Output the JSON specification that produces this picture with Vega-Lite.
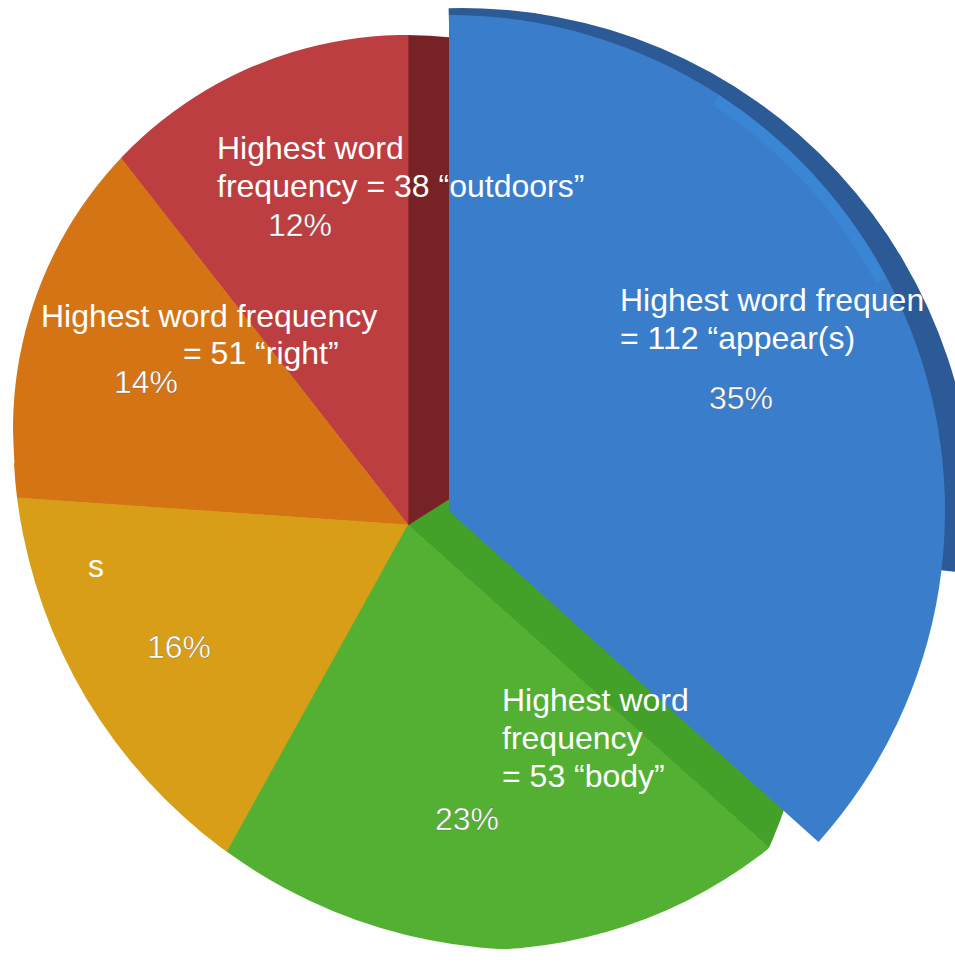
{"$schema":"https://vega.github.io/schema/vega-lite/v6.json","width":955,"height":975,"padding":0,"autosize":{"type":"none"},"background":"#fefefe","view":{"stroke":null},
"data":{"values":[
{"part":"green side","start":57.6,"end":131.8},
{"part":"red side","start":0,"end":57.6},
{"part":"red","pct":"12%","note":"Highest word\nfrequency = 38 “outdoors”","start":321.95,"end":360},
{"part":"orange","pct":"14%","note":"Highest word frequency","note2":"= 51 “right”","start":273.95,"end":321.95},
{"part":"yellow","pct":"16%","note":"s","start":208.97,"end":273.95},
{"part":"green","pct":"23%","note":"Highest word\nfrequency\n= 53 “body”","start":131.8,"end":208.97},
{"part":"blue","pct":"35%","note":"Highest word frequen\n= 112 “appear(s)","start":0,"end":131.85},
{"part":"blue side","start":-1.5,"end":96},
{"part":"blue glint","start":33,"end":62},
{"part":"outside a","start":265,"end":390},
{"part":"outside b","start":180,"end":270},
{"part":"outside c","start":10,"end":180},
{"part":"outside d","start":105,"end":116}
]},
"encoding":{
"color":{"field":"part","type":"nominal","legend":null,"scale":{"domain":["green side","red side","red","orange","yellow","green","blue","blue side","blue glint","outside a","outside b","outside c","outside d"],"range":["#43a028","#772224","#bd3e40","#d57414","#d99e17","#53b032","#3a7dcb","#2b5a96","#3f96e8","#fefefe","#fefefe","#fefefe","#fefefe"]}},
"theta":{"field":"start","type":"quantitative","stack":null,"scale":{"domain":[0,360],"range":[0,6.283185]}},
"theta2":{"field":"end"}
},
"layer":[
{"transform":[{"filter":"indexof(['green side','red side','red','orange','yellow','green'],datum.part)>=0"}],"mark":{"type":"arc","outerRadius":900,"innerRadius":0,"clip":true,"strokeWidth":0.8},"encoding":{"stroke":{"field":"part","type":"nominal","legend":null,"scale":{"domain":["green side","red side","red","orange","yellow","green"],"range":["#43a028","#772224","#bd3e40","#d57414","#d99e17","#53b032"]}},"x":{"datum":408,"type":"quantitative","scale":{"domain":[0,955],"range":[0,955],"nice":false},"axis":null},"y":{"datum":525,"type":"quantitative","scale":{"domain":[0,975],"range":[0,975],"nice":false},"axis":null}}},
{"transform":[{"filter":"datum.part=='outside a'"}],"mark":{"type":"arc","innerRadius":394,"outerRadius":1000,"clip":true},"encoding":{"x":{"datum":407,"type":"quantitative","scale":{"domain":[0,955],"range":[0,955],"nice":false},"axis":null},"y":{"datum":429,"type":"quantitative","scale":{"domain":[0,975],"range":[0,975],"nice":false},"axis":null}}},
{"transform":[{"filter":"datum.part=='outside b'"}],"mark":{"type":"arc","innerRadius":517,"outerRadius":1100,"clip":true},"encoding":{"x":{"datum":530,"type":"quantitative","scale":{"domain":[0,955],"range":[0,955],"nice":false},"axis":null},"y":{"datum":433,"type":"quantitative","scale":{"domain":[0,975],"range":[0,975],"nice":false},"axis":null}}},
{"transform":[{"filter":"datum.part=='outside c'"}],"mark":{"type":"arc","innerRadius":467,"outerRadius":1100,"clip":true},"encoding":{"x":{"datum":478,"type":"quantitative","scale":{"domain":[0,955],"range":[0,955],"nice":false},"axis":null},"y":{"datum":483,"type":"quantitative","scale":{"domain":[0,975],"range":[0,975],"nice":false},"axis":null}}},
{"transform":[{"filter":"datum.part=='outside d'"}],"mark":{"type":"arc","innerRadius":500,"outerRadius":700,"clip":true},"encoding":{"x":{"datum":312,"type":"quantitative","scale":{"domain":[0,955],"range":[0,955],"nice":false},"axis":null},"y":{"datum":645,"type":"quantitative","scale":{"domain":[0,975],"range":[0,975],"nice":false},"axis":null}}},
{"transform":[{"filter":"datum.part=='blue side'"}],"mark":{"type":"arc","innerRadius":0,"outerRadius":512,"clip":true},"encoding":{"x":{"datum":462,"type":"quantitative","scale":{"domain":[0,955],"range":[0,955],"nice":false},"axis":null},"y":{"datum":520,"type":"quantitative","scale":{"domain":[0,975],"range":[0,975],"nice":false},"axis":null}}},
{"transform":[{"filter":"datum.part=='blue'"}],"mark":{"type":"arc","innerRadius":0,"outerRadius":496,"clip":true},"encoding":{"x":{"datum":449,"type":"quantitative","scale":{"domain":[0,955],"range":[0,955],"nice":false},"axis":null},"y":{"datum":511,"type":"quantitative","scale":{"domain":[0,975],"range":[0,975],"nice":false},"axis":null}}},
{"transform":[{"filter":"datum.part=='blue glint'"}],"mark":{"type":"arc","innerRadius":484,"outerRadius":496,"opacity":0.35,"clip":true},"encoding":{"x":{"datum":449,"type":"quantitative","scale":{"domain":[0,955],"range":[0,955],"nice":false},"axis":null},"y":{"datum":511,"type":"quantitative","scale":{"domain":[0,975],"range":[0,975],"nice":false},"axis":null}}},
{"transform":[{"filter":"datum.part=='red'"}],"mark":{"type":"text","font":"Liberation Sans","fontSize":32,"align":"left","baseline":"alphabetic","lineBreak":"\n","lineHeight":38},"encoding":{"color":{"value":"#ffffff"},"theta":{"value":null},"theta2":{"value":null},"x":{"datum":217,"type":"quantitative","scale":{"domain":[0,955],"range":[0,955],"nice":false},"axis":null},"y":{"datum":159,"type":"quantitative","scale":{"domain":[0,975],"range":[0,975],"nice":false},"axis":null},"text":{"field":"note"}}},
{"transform":[{"filter":"datum.part=='orange'"}],"mark":{"type":"text","font":"Liberation Sans","fontSize":32,"align":"left","baseline":"alphabetic"},"encoding":{"color":{"value":"#ffffff"},"theta":{"value":null},"theta2":{"value":null},"x":{"datum":41,"type":"quantitative","scale":{"domain":[0,955],"range":[0,955],"nice":false},"axis":null},"y":{"datum":327,"type":"quantitative","scale":{"domain":[0,975],"range":[0,975],"nice":false},"axis":null},"text":{"field":"note"}}},
{"transform":[{"filter":"datum.part=='orange'"}],"mark":{"type":"text","font":"Liberation Sans","fontSize":32,"align":"left","baseline":"alphabetic"},"encoding":{"color":{"value":"#ffffff"},"theta":{"value":null},"theta2":{"value":null},"x":{"datum":183,"type":"quantitative","scale":{"domain":[0,955],"range":[0,955],"nice":false},"axis":null},"y":{"datum":364,"type":"quantitative","scale":{"domain":[0,975],"range":[0,975],"nice":false},"axis":null},"text":{"field":"note2"}}},
{"transform":[{"filter":"datum.part=='yellow'"}],"mark":{"type":"text","font":"Liberation Sans","fontSize":32,"align":"left","baseline":"alphabetic"},"encoding":{"color":{"value":"#ffffff"},"theta":{"value":null},"theta2":{"value":null},"x":{"datum":88,"type":"quantitative","scale":{"domain":[0,955],"range":[0,955],"nice":false},"axis":null},"y":{"datum":577,"type":"quantitative","scale":{"domain":[0,975],"range":[0,975],"nice":false},"axis":null},"text":{"field":"note"}}},
{"transform":[{"filter":"datum.part=='green'"}],"mark":{"type":"text","font":"Liberation Sans","fontSize":32,"align":"left","baseline":"alphabetic","lineBreak":"\n","lineHeight":38},"encoding":{"color":{"value":"#ffffff"},"theta":{"value":null},"theta2":{"value":null},"x":{"datum":502,"type":"quantitative","scale":{"domain":[0,955],"range":[0,955],"nice":false},"axis":null},"y":{"datum":711,"type":"quantitative","scale":{"domain":[0,975],"range":[0,975],"nice":false},"axis":null},"text":{"field":"note"}}},
{"transform":[{"filter":"datum.part=='blue'"}],"mark":{"type":"text","font":"Liberation Sans","fontSize":32,"align":"left","baseline":"alphabetic","lineBreak":"\n","lineHeight":38},"encoding":{"color":{"value":"#ffffff"},"theta":{"value":null},"theta2":{"value":null},"x":{"datum":620,"type":"quantitative","scale":{"domain":[0,955],"range":[0,955],"nice":false},"axis":null},"y":{"datum":311,"type":"quantitative","scale":{"domain":[0,975],"range":[0,975],"nice":false},"axis":null},"text":{"field":"note"}}},
{"transform":[{"filter":"datum.part=='red'"}],"mark":{"type":"text","font":"Liberation Sans","fontSize":32,"align":"center","baseline":"alphabetic","stroke":"#333333","strokeWidth":0.5,"strokeOpacity":0.5},"encoding":{"color":{"value":"#ffffff"},"theta":{"value":null},"theta2":{"value":null},"x":{"datum":300,"type":"quantitative","scale":{"domain":[0,955],"range":[0,955],"nice":false},"axis":null},"y":{"datum":236,"type":"quantitative","scale":{"domain":[0,975],"range":[0,975],"nice":false},"axis":null},"text":{"field":"pct"}}},
{"transform":[{"filter":"datum.part=='orange'"}],"mark":{"type":"text","font":"Liberation Sans","fontSize":32,"align":"center","baseline":"alphabetic","stroke":"#333333","strokeWidth":0.5,"strokeOpacity":0.5},"encoding":{"color":{"value":"#ffffff"},"theta":{"value":null},"theta2":{"value":null},"x":{"datum":146,"type":"quantitative","scale":{"domain":[0,955],"range":[0,955],"nice":false},"axis":null},"y":{"datum":393,"type":"quantitative","scale":{"domain":[0,975],"range":[0,975],"nice":false},"axis":null},"text":{"field":"pct"}}},
{"transform":[{"filter":"datum.part=='yellow'"}],"mark":{"type":"text","font":"Liberation Sans","fontSize":32,"align":"center","baseline":"alphabetic","stroke":"#333333","strokeWidth":0.5,"strokeOpacity":0.5},"encoding":{"color":{"value":"#ffffff"},"theta":{"value":null},"theta2":{"value":null},"x":{"datum":179,"type":"quantitative","scale":{"domain":[0,955],"range":[0,955],"nice":false},"axis":null},"y":{"datum":658,"type":"quantitative","scale":{"domain":[0,975],"range":[0,975],"nice":false},"axis":null},"text":{"field":"pct"}}},
{"transform":[{"filter":"datum.part=='green'"}],"mark":{"type":"text","font":"Liberation Sans","fontSize":32,"align":"center","baseline":"alphabetic","stroke":"#333333","strokeWidth":0.5,"strokeOpacity":0.5},"encoding":{"color":{"value":"#ffffff"},"theta":{"value":null},"theta2":{"value":null},"x":{"datum":467,"type":"quantitative","scale":{"domain":[0,955],"range":[0,955],"nice":false},"axis":null},"y":{"datum":830,"type":"quantitative","scale":{"domain":[0,975],"range":[0,975],"nice":false},"axis":null},"text":{"field":"pct"}}},
{"transform":[{"filter":"datum.part=='blue'"}],"mark":{"type":"text","font":"Liberation Sans","fontSize":32,"align":"center","baseline":"alphabetic","stroke":"#333333","strokeWidth":0.5,"strokeOpacity":0.5},"encoding":{"color":{"value":"#ffffff"},"theta":{"value":null},"theta2":{"value":null},"x":{"datum":741,"type":"quantitative","scale":{"domain":[0,955],"range":[0,955],"nice":false},"axis":null},"y":{"datum":409,"type":"quantitative","scale":{"domain":[0,975],"range":[0,975],"nice":false},"axis":null},"text":{"field":"pct"}}}
]}
